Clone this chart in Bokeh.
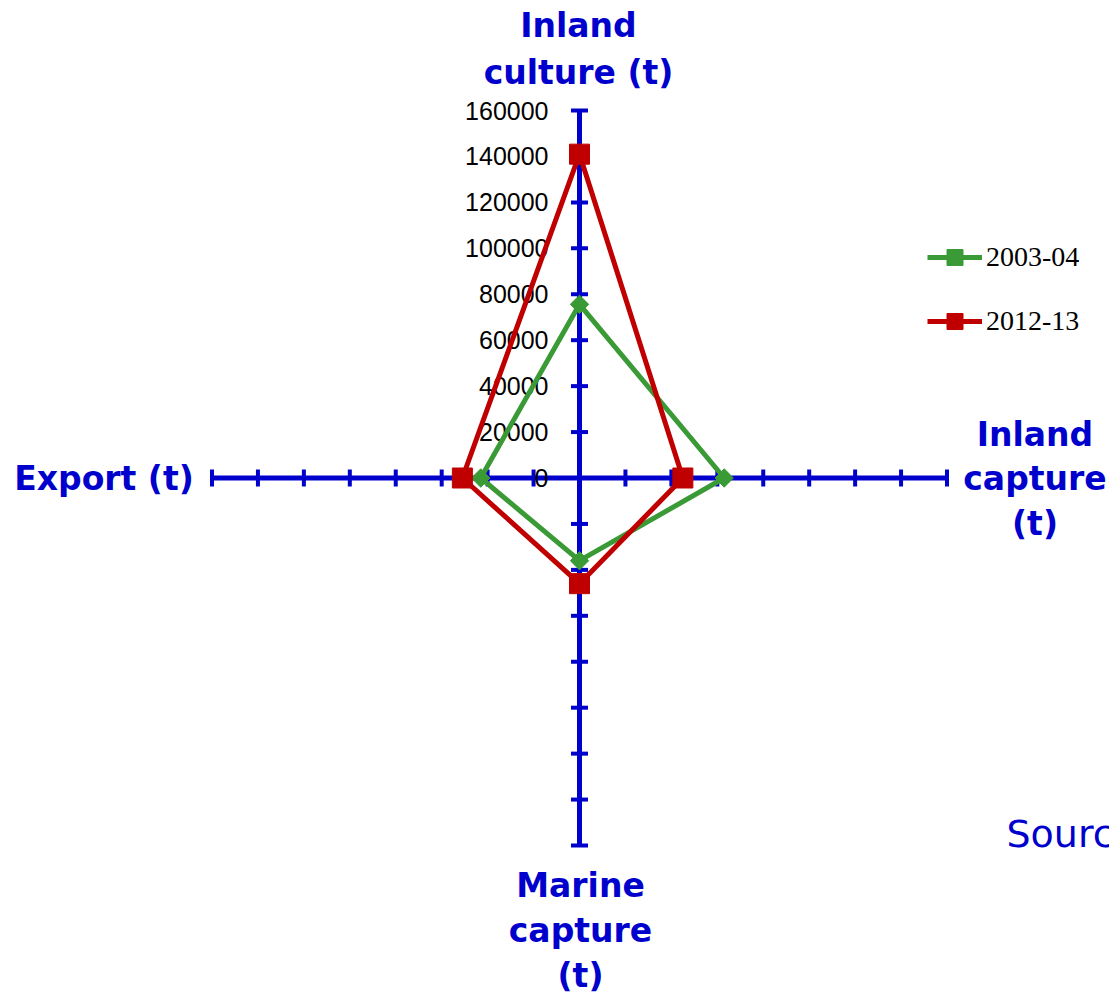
import math

from bokeh.plotting import figure
from bokeh.models import Range1d, Legend, LegendItem, Label
from bokeh.core.properties import value
from bokeh.embed import file_html
from bokeh.resources import INLINE

# ---- data -------------------------------------------------------------
categories = ["Inland culture (t)", "Inland capture (t)", "Marine capture (t)", "Export (t)"]
category_lines = [["Inland", "culture (t)"],
                  ["Inland", "capture", "(t)"],
                  ["Marine", "capture", "(t)"],
                  ["Export (t)"]]
series_names = ["2003-04", "2012-13"]
values_2003_04 = [75600, 63000, 36000, 43000]
values_2012_13 = [141000, 45000, 46000, 51000]
tick_values = [0, 20000, 40000, 60000, 80000, 100000, 120000, 140000, 160000]
tick_labels = ["0", "20000", "40000", "60000", "80000", "100000", "120000", "140000", "160000"]

# ---- geometry / styling -----------------------------------------------
W, H = 1109, 995
CX, CY = 579.0, 477.5          # centre of the radar in screen px
R_PX = 367.5                   # screen length of one spoke
R_MAX = tick_values[-1]
S = R_PX / R_MAX               # px per data unit

BLUE = "#0000CC"
GREEN = "#3A9A35"
RED = "#C00000"

# spokes: up, right, down, left
angles = [math.pi / 2, 0.0, -math.pi / 2, math.pi]

p = figure(width=W, height=H,
           x_range=Range1d(-CX / S, (W - CX) / S),
           y_range=Range1d(-(H - CY) / S, CY / S),
           output_backend="svg", toolbar_location=None,
           x_axis_location=None, y_axis_location=None,
           min_border=0)
p.grid.visible = False
p.outline_line_color = None
p.background_fill_color = "white"
p.border_fill_color = "white"

# spokes
p.segment(x0=[0] * 4, y0=[0] * 4,
          x1=[R_MAX * math.cos(a) for a in angles],
          y1=[R_MAX * math.sin(a) for a in angles],
          line_color=BLUE, line_width=5)

# tick marks across each spoke
half = 8.5 / S
tx0, ty0, tx1, ty1 = [], [], [], []
for a in angles:
    ca, sa = math.cos(a), math.sin(a)
    for t in tick_values[1:]:
        cx, cy = t * ca, t * sa
        tx0.append(cx - half * (-sa)); ty0.append(cy - half * ca)
        tx1.append(cx + half * (-sa)); ty1.append(cy + half * ca)
p.segment(x0=tx0, y0=ty0, x1=tx1, y1=ty1, line_color=BLUE, line_width=4)

# value labels along the upward spoke
p.text(x=[0] * len(tick_values), y=tick_values, text=tick_labels,
       x_offset=-31, text_align="right", text_baseline="middle",
       text_font=value("Liberation Sans"), text_font_size="25px",
       text_color="black")

# category labels at the spoke ends
line_offsets = [
    (-1, [-85, -38]),
    (88, [-44, 0, 45]),
    (1, [40, 85, 130]),
    (-108, [0]),
]
lx, ly, lt, lxo, lyo = [], [], [], [], []
for a, lines, (xo, yos) in zip(angles, category_lines, line_offsets):
    for line, yo in zip(lines, yos):
        lx.append(R_MAX * math.cos(a)); ly.append(R_MAX * math.sin(a))
        lt.append(line); lxo.append(xo); lyo.append(yo)
p.text(x=lx, y=ly, text=lt, x_offset=lxo, y_offset=lyo,
       text_align="center", text_baseline="middle",
       text_font=value("DejaVu Sans"), text_font_style="bold",
       text_font_size="33px", text_color=BLUE)


def closed_polygon(vals):
    xs = [v * math.cos(a) for v, a in zip(vals, angles)]
    ys = [v * math.sin(a) for v, a in zip(vals, angles)]
    return xs, ys


# series 2003-04
xs, ys = closed_polygon(values_2003_04)
l1 = p.line(xs + xs[:1], ys + ys[:1], line_color=GREEN, line_width=5, line_join="round")
m1 = p.scatter(xs, ys, marker="square", angle=math.pi / 4, size=13,
               fill_color=GREEN, line_color=GREEN)

# series 2012-13
xs, ys = closed_polygon(values_2012_13)
l2 = p.line(xs + xs[:1], ys + ys[:1], line_color=RED, line_width=5, line_join="round")
m2 = p.scatter(xs, ys, marker="square", size=20, fill_color=RED, line_color=RED)

legend = Legend(items=[LegendItem(label=series_names[0], renderers=[l1, m1]),
                       LegendItem(label=series_names[1], renderers=[l2, m2])],
                location=(927, H - 341),
                glyph_width=55, glyph_height=40, label_height=40,
                spacing=24, padding=0, margin=0, label_standoff=4,
                label_text_font="Liberation Serif", label_text_font_size="28px",
                label_text_color="black", border_line_color=None,
                background_fill_alpha=0)
p.add_layout(legend)

p.add_layout(Label(x=1006, y=H - 833, x_units="screen", y_units="screen",
                   text="Source", text_baseline="middle",
                   text_font="DejaVu Sans", text_font_size="38px",
                   text_color=BLUE))

open("out.html", "w").write(file_html(p, INLINE))
